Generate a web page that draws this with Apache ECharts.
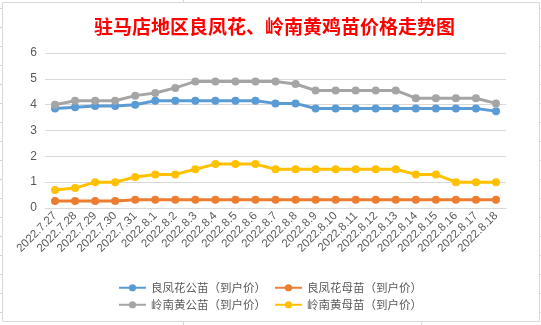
<!DOCTYPE html>
<html>
<head>
<meta charset="utf-8">
<script src="https://cdn.jsdelivr.net/npm/echarts@6/dist/echarts.min.js"></script>
<style>
html,body{margin:0;padding:0;background:#fff;}
#main{width:541px;height:325px;}
</style>
</head>
<body>
<div id="main"></div>
<script>
var titleText = '驻马店地区良凤花、岭南黄鸡苗价格走势图';
var categories = ['2022.7.27','2022.7.28','2022.7.29','2022.7.30','2022.7.31','2022.8.1','2022.8.2','2022.8.3','2022.8.4','2022.8.5','2022.8.6','2022.8.7','2022.8.8','2022.8.9','2022.8.10','2022.8.11','2022.8.12','2022.8.13','2022.8.14','2022.8.15','2022.8.16','2022.8.17','2022.8.18'];
var seriesNames = ['良凤花公苗（到户价）','良凤花母苗（到户价）','岭南黄公苗（到户价）','岭南黄母苗（到户价）'];
var lfhMale   = [3.85,3.9,3.95,3.95,4.0,4.15,4.15,4.15,4.15,4.15,4.15,4.05,4.05,3.85,3.85,3.85,3.85,3.85,3.85,3.85,3.85,3.85,3.75];
var lfhFemale = [0.27,0.27,0.27,0.27,0.32,0.32,0.32,0.32,0.32,0.32,0.32,0.32,0.32,0.32,0.32,0.32,0.32,0.32,0.32,0.32,0.32,0.32,0.32];
var lnhMale   = [4.0,4.15,4.15,4.15,4.35,4.45,4.65,4.9,4.9,4.9,4.9,4.9,4.8,4.55,4.55,4.55,4.55,4.55,4.25,4.25,4.25,4.25,4.05];
var lnhFemale = [0.7,0.77,1.0,1.0,1.2,1.3,1.3,1.5,1.7,1.7,1.7,1.5,1.5,1.5,1.5,1.5,1.5,1.5,1.3,1.3,1.0,1.0,1.0];
var yTicks = [0,1,2,3,4,5,6];
</script>
<script>
var colors = ['#5B9BD5','#ED7D31','#A5A5A5','#FFC000'];
var dataSets = [lfhMale, lfhFemale, lnhMale, lnhFemale];

var graphics = [];
// spreadsheet background grid lines
for (var k = 0; k < 17; k++) {
  var yy = 8.5 + 19 * k;
  graphics.push({type:'line', silent:true, shape:{x1:0,y1:yy,x2:2,y2:yy}, style:{stroke:'#d4d4e0',lineWidth:1}});
  graphics.push({type:'line', silent:true, shape:{x1:540,y1:yy,x2:541,y2:yy}, style:{stroke:'#d4d4e0',lineWidth:1}});
}
[183.5, 421.5].forEach(function(xx){
  graphics.push({type:'line', silent:true, shape:{x1:xx,y1:0,x2:xx,y2:2}, style:{stroke:'#d4d4e0',lineWidth:1}});
  graphics.push({type:'line', silent:true, shape:{x1:xx,y1:322,x2:xx,y2:325}, style:{stroke:'#d4d4e0',lineWidth:1}});
});
graphics.push({type:'rect', silent:true, z:-1, shape:{x:2.5,y:2.5,width:537,height:319}, style:{fill:'#fff',stroke:'#d9d9d9',lineWidth:1}});
</script>
<script>
var chart = echarts.init(document.getElementById('main'), null, {renderer:'canvas'});
var series = seriesNames.map(function(n, i){
  return {
    name: n, type: 'line', data: dataSets[i],
    symbol: 'circle', symbolSize: 8,
    lineStyle: {width: 3, color: colors[i]},
    itemStyle: {color: colors[i]},
    emphasis: {disabled: true},
    animation: false
  };
});
var legendText = {fontSize: 11.5, color: '#595959', fontFamily: '"Noto Sans CJK SC", sans-serif'};
chart.setOption({
  animation: false,
  color: colors,
  graphic: graphics,
  title: {
    text: titleText, left: 89, top: 12,
    textStyle: {color: '#FF0000', fontSize: 19, fontWeight: 'bold', fontFamily: '"Noto Sans CJK SC", serif'}
  },
  legend: [
    {data: [seriesNames[0], seriesNames[1]], left: 113, top: 277, itemWidth: 27, itemHeight: 9, itemGap: 8, itemTextGap: 5, textStyle: legendText, selectedMode: false},
    {data: [seriesNames[2], seriesNames[3]], left: 113, top: 294, itemWidth: 27, itemHeight: 9, itemGap: 8, itemTextGap: 5, textStyle: legendText, selectedMode: false}
  ],
  grid: {left: 45, top: 53, width: 461, height: 155, containLabel: false},
  xAxis: {
    type: 'category', data: categories, boundaryGap: true,
    axisLine: {lineStyle: {color: '#d9d9d9', width: 1}},
    axisTick: {show: false},
    axisLabel: {rotate: 45, interval: 0, fontSize: 11.5, color: '#595959', margin: 6, fontFamily: '"Liberation Sans", sans-serif'}
  },
  yAxis: {
    type: 'value', min: yTicks[0], max: yTicks[yTicks.length-1], interval: 1,
    axisLine: {show: false}, axisTick: {show: false},
    splitLine: {lineStyle: {color: '#d9d9d9', width: 1}},
    axisLabel: {fontSize: 12, color: '#595959', margin: 8, fontFamily: '"Liberation Sans", sans-serif'}
  },
  series: series
});
</script>
</body>
</html>
